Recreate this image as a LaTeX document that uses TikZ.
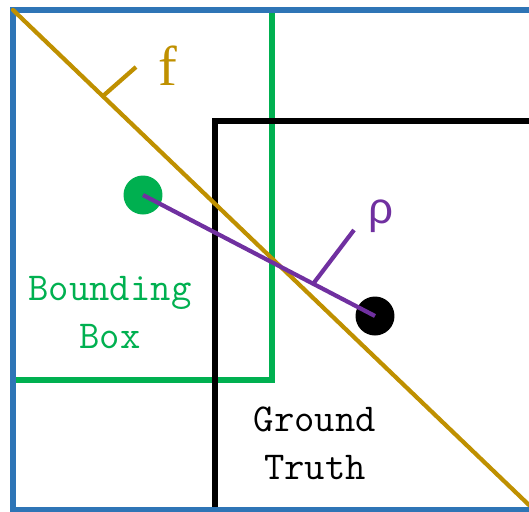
\documentclass[tikz,border=0pt]{standalone}
\usepackage{fontspec}
\newfontfamily\greekfont{Liberation Sans}
\newfontfamily\ffont{Liberation Serif}
\usepackage{xcolor}
\definecolor{frame}{HTML}{2E75B6}
\definecolor{bbox}{HTML}{00B050}
\definecolor{diag}{HTML}{BF9000}
\definecolor{dist}{HTML}{7030A0}

\begin{document}
\begin{tikzpicture}[
  x=0.02cm,y=-0.02cm,
  rect/.style={line width=3.5pt},
  seg/.style={line width=2.4pt},
  dot/.style={circle,inner sep=0pt,minimum size=0.78cm},
  lbl/.style={font=\ttfamily\fontsize{22.5}{27.3}\selectfont,align=center},
]
  \useasboundingbox (0,0) rectangle (529,512);
  \clip (0,0) rectangle (529,512);

  % boxes
  \draw[rect,bbox] (13,10) rectangle (272,380);
  \draw[rect,black] (215,121) rectangle (560,560);
  \draw[rect,frame] (13,10) rectangle (560,510);

  % dividing line f
  \coordinate (fa) at (13,10);
  \coordinate (fb) at (529,505);
  \coordinate (ftick) at (103,96);
  \coordinate (fend) at (136,67);
  \draw[seg,diag,line cap=round] (fa) -- (fb);
  \draw[seg,diag] (ftick) -- (fend);
  \node[diag,font=\ffont\fontsize{32}{32}\selectfont] (flabel) at (168,66) {f};

  % centres and distance rho
  \node[dot,fill=bbox] (cbox) at (143,195) {};
  \node[dot,fill=black] (cgt) at (375,316) {};
  \coordinate (rtick) at (313,284);
  \coordinate (rend) at (354,230);
  \draw[seg,dist] (cbox.center) -- (cgt.center);
  \draw[seg,dist] (rtick) -- (rend);
  \node[dist,font=\greekfont\fontsize{25}{25}\selectfont] (rlabel) at (381,216) {ρ};

  % labels
  \node[lbl,bbox] (bblabel) at (110,313) {Bounding\\Box};
  \node[lbl,black] (gtlabel) at (315,443) {Ground\\Truth};
\end{tikzpicture}
\end{document}
